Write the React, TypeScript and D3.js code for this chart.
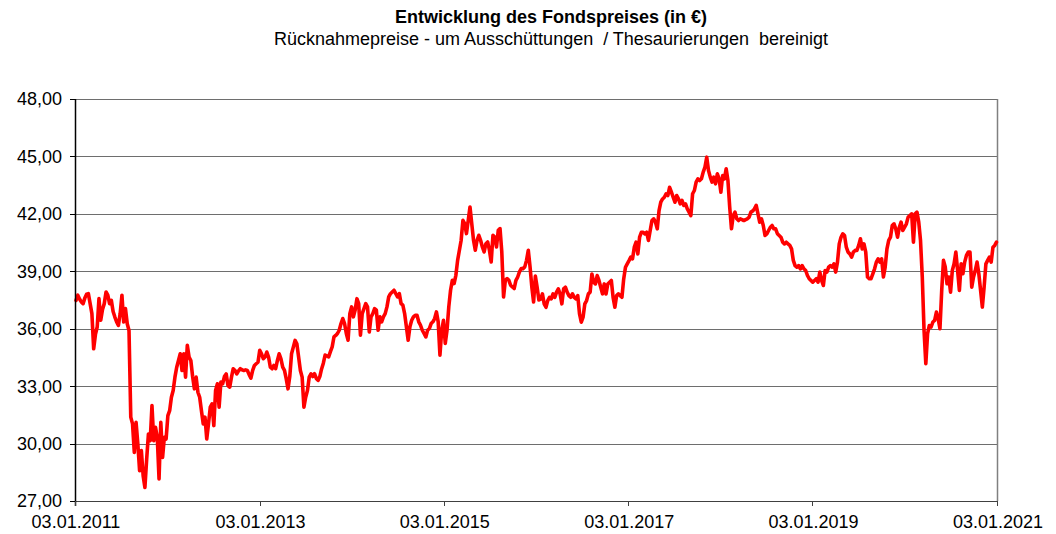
import React from 'react';
import * as d3 from 'd3';

// ---- data (weekly closing prices, first Monday = startDate) ----
const startDate = '2011-01-03';
const endDate = '2021-01-03';

const prices2011 = [
  37.48, 37.75, 37.55, 37.40, 37.31, 37.60, 37.80, 37.83, 37.31, 36.79,
  34.95, 35.70, 36.09, 37.57, 36.44, 37.00, 37.31, 37.92, 37.75, 37.31,
  37.48, 36.90, 36.61, 36.35, 36.17, 36.79, 37.75, 36.35, 37.05, 36.26,
  35.91, 31.38, 31.03, 29.54, 31.11, 29.98, 28.58, 29.63, 28.32, 27.71,
  29.19, 30.50, 30.15, 31.99, 30.15, 30.85, 30.33, 28.15, 31.11, 29.28,
  30.33, 30.24,
];
const prices2012 = [
  31.46, 31.72, 32.42, 32.77, 33.47, 33.99, 34.34, 34.69, 33.82, 34.69,
  33.47, 35.13, 34.52, 34.34, 33.50, 32.86, 33.47, 32.68, 32.42, 31.72,
  31.03, 31.38, 30.24, 31.03, 31.90, 32.07, 30.94, 32.77, 33.12, 31.90,
  33.21, 33.12, 33.50, 33.64, 33.03, 32.95, 33.47, 33.91, 33.82, 33.64,
  33.80, 33.91, 33.85, 33.82, 33.85, 33.82, 33.60, 33.42, 33.82, 34.08,
  34.17, 34.25, 34.87,
];
const prices2013 = [
  34.69, 34.43, 34.52, 34.78, 34.52, 33.99, 33.91, 34.08, 33.91, 34.34,
  34.69, 34.43, 33.99, 33.82, 33.38, 32.86, 33.50, 34.69, 35.04, 35.39,
  35.21, 34.52, 33.82, 33.47, 31.90, 32.42, 32.77, 33.47, 33.64, 33.50,
  33.65, 33.40, 33.30, 33.50, 33.90, 34.20, 34.62, 34.58, 34.53, 34.80,
  35.05, 35.57, 35.65, 35.75, 35.92, 36.27, 36.53, 36.27, 35.75, 35.40,
  36.79, 37.14,
];
const prices2014 = [
  36.62, 36.97, 37.57, 37.31, 35.66, 36.79, 37.05, 37.31, 37.14, 35.83,
  36.62, 36.79, 37.05, 36.97, 35.92, 36.62, 36.36, 36.62, 36.79, 37.14,
  37.66, 37.83, 37.92, 38.01, 37.83, 37.66, 37.83, 37.31, 37.23, 36.79,
  36.10, 35.40, 36.10, 36.44, 36.62, 36.70, 36.70, 36.36, 36.18, 35.92,
  35.75, 35.57, 35.92, 36.01, 36.27, 36.36, 36.53, 36.88, 36.36, 34.62,
  35.92, 36.44,
];
const prices2015 = [
  35.23, 35.92, 37.14, 38.01, 38.53, 38.36, 38.79, 39.57, 40.10, 40.62,
  41.66, 41.49, 40.97, 41.66, 42.36, 41.49, 40.62, 40.10, 40.62, 40.88,
  40.62, 40.27, 40.01, 40.44, 40.53, 40.10, 39.49, 40.88, 40.79, 40.27,
  41.14, 41.23, 40.01, 37.66, 38.53, 38.62, 38.53, 38.27, 38.18, 38.10,
  38.53, 38.70, 38.97, 39.14, 39.14, 39.23, 39.57, 40.10, 39.23, 38.18,
  37.40, 38.75,
];
const prices2016 = [
  38.17, 37.50, 37.55, 37.82, 37.30, 37.12, 37.47, 37.64, 37.56, 37.82,
  37.64, 37.91, 38.08, 37.82, 37.30, 38.08, 38.17, 37.91, 37.73, 37.64,
  37.82, 37.64, 37.56, 37.73, 36.77, 36.34, 36.60, 37.30, 37.47, 37.82,
  37.91, 38.86, 38.43, 38.34, 38.78, 38.52, 38.17, 37.82, 38.34, 37.82,
  38.34, 38.43, 38.52, 37.64, 37.12, 37.73, 37.82, 37.73, 37.64, 38.60,
  39.21, 39.39,
];
const prices2017 = [
  39.56, 39.74, 39.65, 40.26, 40.52, 39.91, 40.78, 41.04, 41.04, 40.95,
  41.04, 40.61, 41.13, 41.65, 41.74, 41.56, 41.22, 42.17, 42.61, 42.78,
  42.87, 43.05, 42.96, 43.39, 43.13, 42.87, 42.61, 42.96, 42.78, 42.52,
  42.70, 42.44, 42.52, 42.26, 42.09, 41.91, 43.05, 43.22, 43.66, 43.83,
  43.74, 43.83, 44.18, 44.44, 44.96, 44.26, 43.92, 43.66, 43.92, 43.57,
  44.09, 43.83,
];
const prices2018 = [
  43.13, 44.00, 43.83, 44.35, 43.74, 42.35, 41.22, 41.91, 42.09, 41.74,
  41.65, 41.74, 41.70, 41.65, 41.70, 41.74, 41.83, 42.09, 42.15, 42.26,
  42.44, 42.00, 41.56, 41.74, 41.39, 40.87, 40.95, 41.13, 41.30, 41.39,
  41.22, 41.22, 40.96, 40.87, 40.78, 40.52, 40.43, 40.52, 40.43, 40.35,
  40.17, 39.57, 39.30, 39.22, 39.30, 39.13, 39.30, 39.13, 39.04, 38.78,
  38.61, 38.52, 38.43,
];
const prices2019 = [
  38.52, 38.61, 38.43, 38.96, 38.52, 38.26, 39.04, 38.96, 39.22, 39.30,
  39.22, 39.39, 38.96, 39.48, 40.43, 40.78, 40.96, 40.87, 40.26, 40.00,
  39.91, 39.74, 40.00, 40.09, 40.09, 40.35, 40.70, 40.17, 40.43, 40.00,
  38.70, 38.61, 38.61, 38.87, 39.13, 39.48, 39.65, 39.48, 39.65, 38.70,
  39.22, 40.17, 40.61, 40.78, 41.39, 41.48, 41.22, 40.78, 41.30, 41.57,
  41.13, 41.30,
];
const prices2020 = [
  41.48, 41.83, 41.91, 42.00, 40.52, 42.00, 42.09, 41.57, 40.61, 38.70,
  35.91, 34.17, 35.74, 36.17, 36.09, 36.35, 36.43, 36.87, 36.52, 36.00,
  38.00, 39.57, 39.22, 38.35, 38.70, 37.91, 39.04, 39.39, 40.00, 39.04,
  38.00, 39.39, 38.87, 39.48, 39.83, 40.00, 40.00, 38.17, 38.70, 39.04,
  39.48, 38.87, 38.00, 37.13, 38.17, 39.39, 39.57, 39.74, 39.48, 40.26,
  40.35, 40.52,
];

const yTickValues = [27, 30, 33, 36, 39, 42, 45, 48];
const xTickLabels = ['03.01.2011', '03.01.2013', '03.01.2015', '03.01.2017', '03.01.2019', '03.01.2021'];

const titleText = 'Entwicklung des Fondspreises (in €)';
const subtitleText = 'Rücknahmepreise - um Ausschüttungen  / Thesaurierungen  bereinigt';

const FONT = '"Liberation Sans", Arial, Helvetica, sans-serif';

export default function App() {
  const W = 1056;
  const H = 534;
  const plotLeft = 76;
  const plotRight = 998;
  const plotTop = 99;
  const plotBottom = 501;

  const parseIso = d3.timeParse('%Y-%m-%d');
  const parseDe = d3.timeParse('%d.%m.%Y');
  const start = parseIso(startDate) as Date;
  const end = parseIso(endDate) as Date;

  const x = d3.scaleTime().domain([start, end]).range([plotLeft, plotRight]);
  const y = d3.scaleLinear().domain([27, 48]).range([plotBottom, plotTop]);

  const de = d3.formatLocale({ decimal: ',', thousands: '.', grouping: [3], currency: ['', ' €'] });
  const fmt = de.format('.2f');

  const values = [
    ...prices2011, ...prices2012, ...prices2013, ...prices2014, ...prices2015,
    ...prices2016, ...prices2017, ...prices2018, ...prices2019, ...prices2020,
  ];
  const data = values.map((v, i) => ({ date: d3.timeDay.offset(start, 7 * i), v }));

  const line = d3
    .line<{ date: Date; v: number }>()
    .x((d) => x(d.date))
    .y((d) => y(d.v))
    .curve(d3.curveLinear);

  const crisp = (n: number) => Math.round(n) + 0.5;

  return (
    <svg
      width={W}
      height={H}
      viewBox={`0 0 ${W} ${H}`}
      style={{ position: 'absolute', left: 0, top: 0, background: '#fff' }}
      fontFamily={FONT}
    >
      <rect x={0} y={0} width={W} height={H} fill="#fff" />
      <text x={551} y={23} textAnchor="middle" fontSize={18} fontWeight="bold" fill="#000">
        {titleText}
      </text>
      <text x={551} y={45} textAnchor="middle" fontSize={18} fill="#000" style={{ whiteSpace: 'pre' }}>
        {subtitleText}
      </text>

      {/* grid lines */}
      {yTickValues.map((t) => (
        <line
          key={'g' + t}
          x1={plotLeft}
          x2={plotRight}
          y1={crisp(y(t))}
          y2={crisp(y(t))}
          stroke={t === 27 ? '#404040' : '#6e6e6e'}
          strokeWidth={1}
        />
      ))}
      {/* right border */}
      <line x1={crisp(plotRight - 1)} x2={crisp(plotRight - 1)} y1={plotTop} y2={plotBottom} stroke="#808080" strokeWidth={1.5} />

      {/* data line */}
      <path d={line(data) || ''} fill="none" stroke="#ff0000" strokeWidth={3.6} strokeLinejoin="round" strokeLinecap="round" />

      {/* left axis */}
      <line x1={crisp(plotLeft - 1)} x2={crisp(plotLeft - 1)} y1={plotTop} y2={plotBottom + 5} stroke="#000" strokeWidth={1.5} />
      {yTickValues.map((t) => (
        <g key={'yt' + t}>
          <line x1={plotLeft - 6} x2={plotLeft} y1={crisp(y(t))} y2={crisp(y(t))} stroke="#000" strokeWidth={1} />
          <text x={62} y={y(t)} dy="0.36em" textAnchor="end" fontSize={18} fill="#000">
            {fmt(t)}
          </text>
        </g>
      ))}

      {/* bottom axis ticks */}
      {xTickLabels.map((lbl) => {
        const d = parseDe(lbl) as Date;
        const px = x(d);
        return (
          <g key={lbl}>
            <line x1={crisp(px - 1)} x2={crisp(px - 1)} y1={plotBottom} y2={plotBottom + 5} stroke="#404040" strokeWidth={1} />
            <text x={px} y={528} textAnchor="middle" fontSize={18} fill="#000">
              {lbl}
            </text>
          </g>
        );
      })}
    </svg>
  );
}
